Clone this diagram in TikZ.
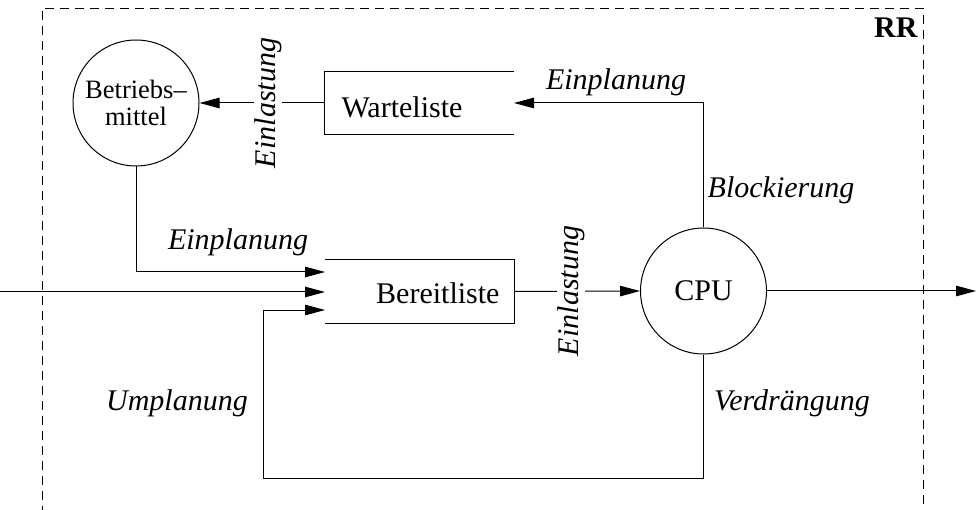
\documentclass[tikz,border=0pt]{standalone}
\usepackage{fontspec}
\setmainfont{Liberation Serif}
\usetikzlibrary{arrows.meta}
\begin{document}
\begin{tikzpicture}[x=1pt,y=-1pt, line width=1pt,
  tip/.style={-{Triangle[length=20pt,width=10.5pt]}},
  lbl/.style={font=\fontsize{30}{32}\selectfont\itshape, inner sep=0pt},
  txt/.style={font=\fontsize{30}{32}\selectfont, inner sep=0pt},
  frame/.style={dash pattern=on 9pt off 6pt, line width=0.9pt},
  ring/.style={circle, draw, minimum size=126pt, inner sep=0pt, align=center},
  listbox/.style={minimum width=189pt, minimum height=62pt, inner sep=0pt}]
\useasboundingbox (0,0) rectangle (976,510);
% frame
\draw[frame] (42,515) -- (42,8) -- (923,8) -- (923,515);
\node[font=\fontsize{30}{32}\selectfont\bfseries, anchor=base east, inner sep=0pt] (rr) at (918,38) {RR};
% nodes
\node[ring, font=\fontsize{26.5}{27}\selectfont] (bm) at (136,103) {Betriebs--\\mittel};
\node[ring, txt] (cpu) at (703.5,291) {CPU};
\node[listbox] (wl) at (419,103) {};
\node[listbox] (br) at (419.5,291.5) {};
\draw (wl.north east) -- (wl.north west) -- (wl.south west) -- (wl.south east);
\draw (br.north west) -- (br.north east) -- (br.south east) -- (br.south west);
\node[txt] (wlt) at (402,107) {Warteliste};
\node[txt, anchor=east] (brt) at (500,293) {Bereitliste};
% coordinates
\coordinate (in1) at (325,272);
\coordinate (in2) at (325,292);
\coordinate (in3) at (325,310);
\coordinate (src) at (0,292);
\coordinate (out) at (976,291);
\coordinate (lb) at (263,478);
% connectors
\draw[tip] (wl.west) -- (bm.east);
\draw[tip] (cpu.north) |- (wl.east);
\draw[tip] (bm.south) |- (in1);
\draw[tip] (src) -- (in2);
\draw[tip] (cpu.south) |- (lb) |- (in3);
\draw[tip] (br.east) -- (cpu.west);
\draw[tip] (cpu.east) -- (out);
% labels
\node[lbl, rotate=90, fill=white] (el1) at (268,103) {Einlastung};
\node[lbl, rotate=90, fill=white] (el2) at (571,291) {Einlastung};
\node[lbl] (ep1) at (616,82) {Einplanung};
\node[lbl] (ep2) at (238,242) {Einplanung};
\node[lbl] (bl) at (781,190) {Blockierung};
\node[lbl] (up) at (177,403) {Umplanung};
\node[lbl] (vd) at (792,403) {Verdrängung};
\end{tikzpicture}
\end{document}
